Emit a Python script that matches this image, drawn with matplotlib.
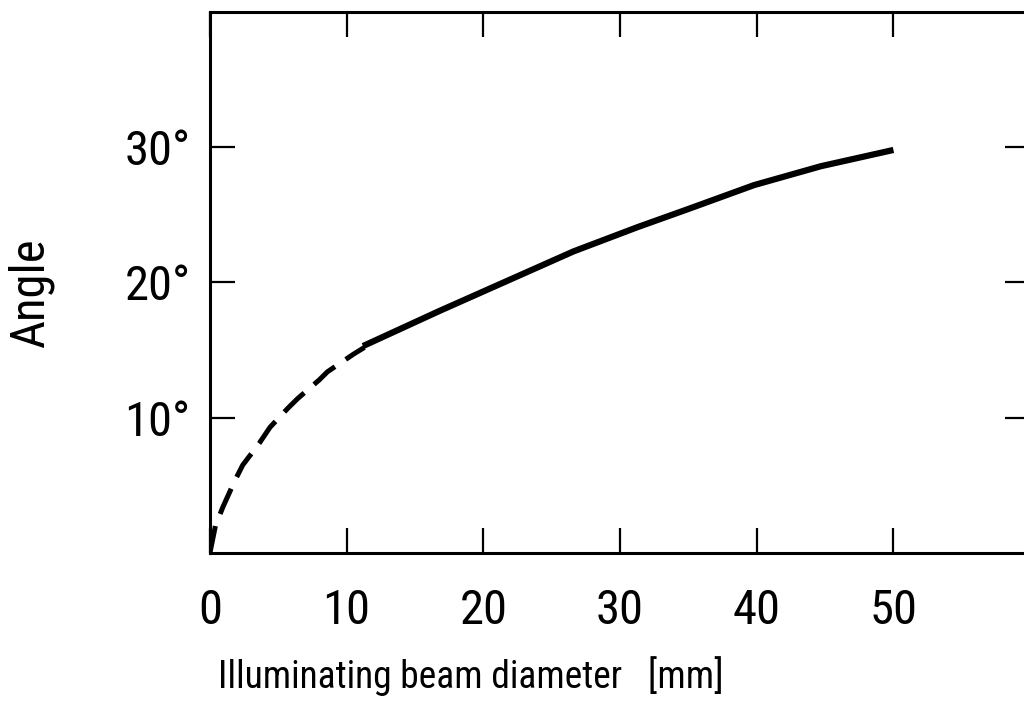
import matplotlib
matplotlib.use("Agg")
import matplotlib.pyplot as plt

# dashed part (extrapolated) and solid part (measured)
dash_x = [0, 0.4, 0.95, 1.8, 2.4, 3.6, 4.4, 5.7, 6.4, 8.0, 8.6, 10.5, 11.3]
dash_y = [0, 2.0, 3.4, 5.3, 6.5, 8.1, 9.3, 10.7, 11.4, 12.8, 13.4, 14.7, 15.2]
solid_x = [11.2, 16.8, 21.7, 26.6, 31.3, 34.9, 39.8, 44.7, 50]
solid_y = [15.3, 17.9, 20.1, 22.3, 24.1, 25.4, 27.2, 28.6, 29.8]

x_ticks = [0, 10, 20, 30, 40, 50]
y_ticks = [10, 20, 30]
y_labels = ["10°", "20°", "30°"]

plt.rcParams['font.family'] = ['Liberation Sans Narrow', 'Roboto Condensed',
                               'Roboto', 'DejaVu Sans']

fig = plt.figure(figsize=(10.24, 7.15), dpi=100)
ax = fig.add_axes([0.205, 0.2266, 0.801, 0.7566])

line, = ax.plot(dash_x, dash_y, color='black', linewidth=3.6, solid_capstyle='butt')
line.set_dashes([5.5, 2.6])
ax.plot(solid_x, solid_y, color='black', linewidth=4.5, solid_capstyle='butt')

ax.set_xlim(0, 60)
ax.set_ylim(0, 40)
ax.set_xticks(x_ticks)
ax.set_xticklabels([str(v) for v in x_ticks])
ax.set_yticks(y_ticks)
ax.set_yticklabels(y_labels)

ax.tick_params(direction='in', length=18, width=1.6, top=True, right=True,
               labelsize=35, pad=14)
ax.tick_params(axis='x', pad=25)
for s in ax.spines.values():
    s.set_linewidth(2.2)

ax.set_xlabel("Illuminating beam diameter   [mm]", fontsize=27)
ax.xaxis.set_label_coords(0.318, -0.19)
ax.set_ylabel("Angle", fontsize=35)
ax.yaxis.set_label_coords(-0.19, 0.48)

fig.savefig("out.png", dpi=100)
